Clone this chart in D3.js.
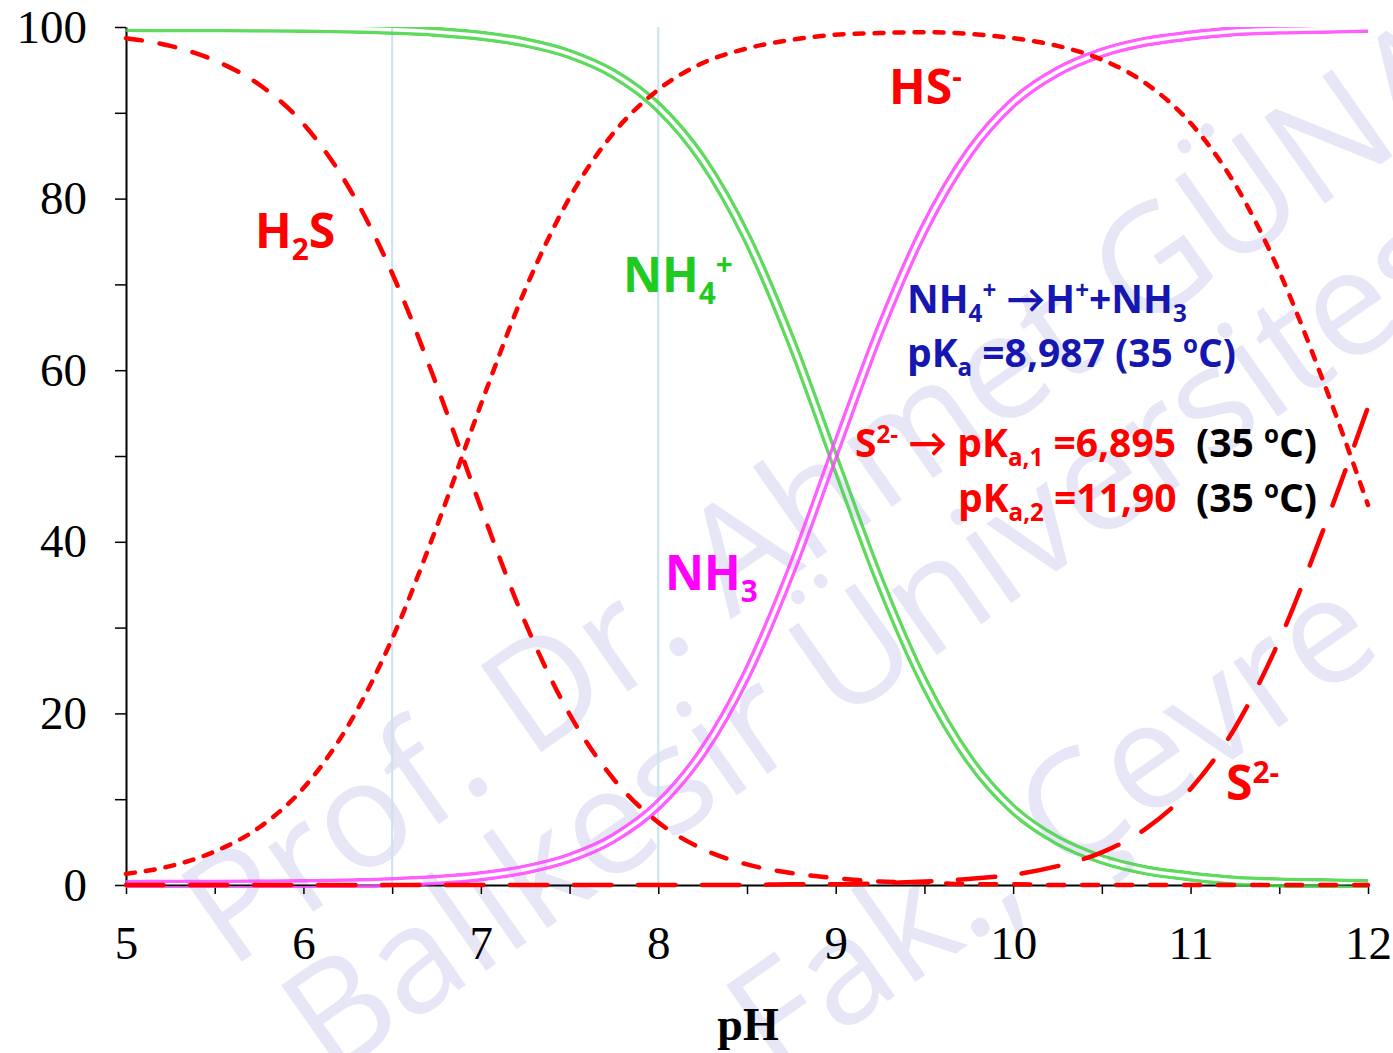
<!DOCTYPE html>
<html>
<head>
<meta charset="utf-8">
<script src="https://cdn.jsdelivr.net/npm/d3@7"></script>
<style>
body { margin: 0; background: #fff; }
</style>
</head>
<body>
<div id="chart"></div>
<script>
// pH grid and species percentages
var phValues = [5, 5.25, 5.5, 5.75, 6, 6.25, 6.5, 6.75, 7, 7.25, 7.5, 7.75, 8, 8.25, 8.5, 8.75,
    9, 9.25, 9.5, 9.75, 10, 10.25, 10.5, 10.75, 11, 11.25, 11.5, 11.75, 12];
var h2sPct = [98.7, 97.8, 96.1, 93.3, 88.7, 81.5, 71.3, 58.3, 44.0, 30.6, 19.9, 12.3, 7.3, 4.2, 2.4, 1.4,
    0.8, 0.4, 0.3, 0.1, 0.1, 0, 0, 0, 0, 0, 0, 0, 0];
var hsPct = [1.3, 2.2, 3.9, 6.7, 11.3, 18.5, 28.7, 41.7, 56.0, 69.4, 80.1, 87.7, 92.7, 95.8, 97.5, 98.5,
    99.1, 99.3, 99.4, 99.2, 98.7, 97.8, 96.2, 93.4, 88.8, 81.7, 71.5, 58.6, 44.3];
var s2Pct = [0, 0, 0, 0, 0, 0, 0, 0, 0, 0, 0, 0, 0, 0, 0, 0.1,
    0.1, 0.2, 0.4, 0.7, 1.2, 2.2, 3.8, 6.6, 11.2, 18.3, 28.5, 41.5, 55.7];
var nh4Pct = [99.99, 99.98, 99.97, 99.94, 99.9, 99.82, 99.67, 99.42, 98.98, 98.2, 96.84, 94.52, 90.66, 84.5, 75.4, 63.3,
    49.2, 35.3, 23.5, 14.7, 8.8, 5.2, 3.0, 1.7, 1.0, 0.5, 0.3, 0.2, 0.1];
var nh3Pct = [0.01, 0.02, 0.03, 0.06, 0.1, 0.18, 0.33, 0.58, 1.02, 1.8, 3.16, 5.48, 9.34, 15.5, 24.6, 36.7,
    50.8, 64.7, 76.5, 85.3, 91.2, 94.8, 97.0, 98.3, 99.0, 99.5, 99.7, 99.8, 99.9];

var xTicks = [5, 5.5, 6, 6.5, 7, 7.5, 8, 8.5, 9, 9.5, 10, 10.5, 11, 11.5, 12];
var yTicks = [0, 10, 20, 30, 40, 50, 60, 70, 80, 90, 100];
var markerPh = [6.5, 8];
var watermarkLines = ["Prof. Dr. Ahmet GÜNAY", "Balıkesir Üniversitesi", "Fak., Çevre"];

var width = 1393, height = 1053;
var margin = { top: 27, right: 25, bottom: 168, left: 126 };
var serif = "'Liberation Serif', 'Times New Roman', serif";
var sans = "'Open Sans', Lato, sans-serif";

var svg = d3.select("#chart").append("svg")
    .attr("width", width)
    .attr("height", height);

var x = d3.scaleLinear().domain([5, 12]).range([margin.left, width - margin.right]);
var y = d3.scaleLinear().domain([0, 100]).range([height - margin.bottom, margin.top]);

var defs = svg.append("defs");
defs.append("clipPath").attr("id", "plotClip")
    .append("rect")
    .attr("x", x(5))
    .attr("y", y(100))
    .attr("width", x(12) - x(5))
    .attr("height", y(0) - y(100) + 3);

// watermark behind everything
var wmPos = [[230, 970], [330, 1080], [775, 1080]];
svg.append("g").selectAll("text")
    .data(watermarkLines)
    .enter()
    .append("text")
    .attr("transform", function (d, i) { return "translate(" + wmPos[i][0] + "," + wmPos[i][1] + ") rotate(-35)"; })
    .attr("font-family", "'Open Sans', sans-serif")
    .attr("font-size", 148)
    .attr("fill", "#e6e6f6")
    .text(function (d) { return d; });

// reference verticals
svg.append("g").selectAll("line")
    .data(markerPh)
    .enter()
    .append("line")
    .attr("x1", function (d) { return x(d); })
    .attr("x2", function (d) { return x(d); })
    .attr("y1", y(100))
    .attr("y2", y(0))
    .attr("stroke", "#c8e4ee")
    .attr("stroke-width", 2);

// axes
var yAxis = svg.append("g")
    .attr("transform", "translate(" + x(5) + ",0)")
    .call(d3.axisLeft(y).tickValues(yTicks).tickSize(11).tickSizeOuter(0).tickPadding(28)
        .tickFormat(function (d) { return d % 20 === 0 ? d : ""; }));
var xAxis = svg.append("g")
    .attr("transform", "translate(0," + y(0) + ")")
    .call(d3.axisBottom(x).tickValues(xTicks).tickSize(9).tickSizeOuter(0).tickPadding(32)
        .tickFormat(function (d) { return d % 1 === 0 ? d : ""; }));
[xAxis, yAxis].forEach(function (ax) {
    ax.select(".domain").attr("stroke", "#000").attr("stroke-width", 2);
    ax.selectAll(".tick line").attr("stroke", "#000").attr("stroke-width", 1.5);
    ax.selectAll(".tick text")
        .attr("font-family", serif)
        .attr("font-size", 47)
        .attr("fill", "#000");
});

svg.append("text")
    .attr("x", 748)
    .attr("y", 1040)
    .attr("text-anchor", "middle")
    .attr("font-family", serif)
    .attr("font-weight", "bold")
    .attr("font-size", 46)
    .text("pH");

var line = d3.line()
    .x(function (d) { return x(d[0]); })
    .y(function (d) { return y(d[1]); })
    .curve(d3.curveMonotoneX);

// double (outline) curves for ammonia species
function doubleLine(id, values, color) {
    var d = line(d3.zip(phValues, values));
    var m = defs.append("mask").attr("id", id)
        .attr("maskUnits", "userSpaceOnUse")
        .attr("x", 0).attr("y", 0).attr("width", width).attr("height", height);
    m.append("path").attr("d", d).attr("fill", "none").attr("stroke", "#fff").attr("stroke-width", 10.5);
    m.append("path").attr("d", d).attr("fill", "none").attr("stroke", "#000").attr("stroke-width", 3.5);
    svg.append("g")
        .attr("clip-path", "url(#plotClip)")
        .append("path")
        .attr("d", d)
        .attr("fill", "none")
        .attr("stroke", color)
        .attr("stroke-width", 10.5)
        .attr("opacity", 0.85)
        .attr("mask", "url(#" + id + ")");
}
doubleLine("nh4Mask", nh4Pct, "#44d444");
doubleLine("nh3Mask", nh3Pct, "#ff44ff");

function dashedLine(values, dash) {
    svg.append("path")
        .attr("d", line(d3.zip(phValues, values)))
        .attr("fill", "none")
        .attr("stroke", "#ff0000")
        .attr("stroke-width", 4.5)
        .attr("stroke-linecap", "round")
        .attr("stroke-dasharray", dash);
}
dashedLine(h2sPct, "16,18");
dashedLine(hsPct, "9,11");
dashedLine(s2Pct, "37.5,26.5");

// text with sub/superscripts
function richText(px, py, parts, size, color) {
    var t = svg.append("text")
        .attr("x", px)
        .attr("y", py)
        .attr("font-family", sans)
        .attr("font-weight", "bold")
        .attr("font-size", size)
        .attr("fill", color);
    var shift = 0;
    parts.forEach(function (p) {
        var target = p[1] === "sub" ? 0.24 * size : p[1] === "sup" ? -0.36 * size : 0;
        var ts = t.append("tspan").attr("dy", target - shift).text(p[0]);
        if (p[1]) ts.attr("font-size", size * 0.62);
        shift = target;
    });
    return t;
}

var red = "#ff0000";
richText(255, 248, [["H"], ["2", "sub"], ["S"]], 48, red);
richText(889, 104, [["HS"], ["-", "sup"]], 48, red);
richText(623, 292, [["NH"], ["4", "sub"], ["+", "sup"]], 48, "#1ecb1e");
richText(665, 590, [["NH"], ["3", "sub"]], 48, "#ff00ff");
richText(1226, 800, [["S"], ["2-", "sup"]], 48, red);

var blue = "#1616b0";
richText(907, 313, [["NH"], ["4", "sub"], ["+", "sup"], [" \u2192H"], ["+", "sup"], ["+NH"], ["3", "sub"]], 39, blue);
richText(907, 367, [["pK"], ["a", "sub"], [" =8,987 (35 "], ["o", "sup"], ["C)"]], 39, blue);
richText(855, 457, [["S"], ["2-", "sup"], [" \u2192 pK"], ["a,1", "sub"], [" =6,895"]], 39, red);
richText(1196, 457, [["(35 "], ["o", "sup"], ["C)"]], 39, "#000");
richText(958, 512, [["pK"], ["a,2", "sub"], [" =11,90"]], 39, red);
richText(1196, 512, [["(35 "], ["o", "sup"], ["C)"]], 39, "#000");
</script>
</body>
</html>
